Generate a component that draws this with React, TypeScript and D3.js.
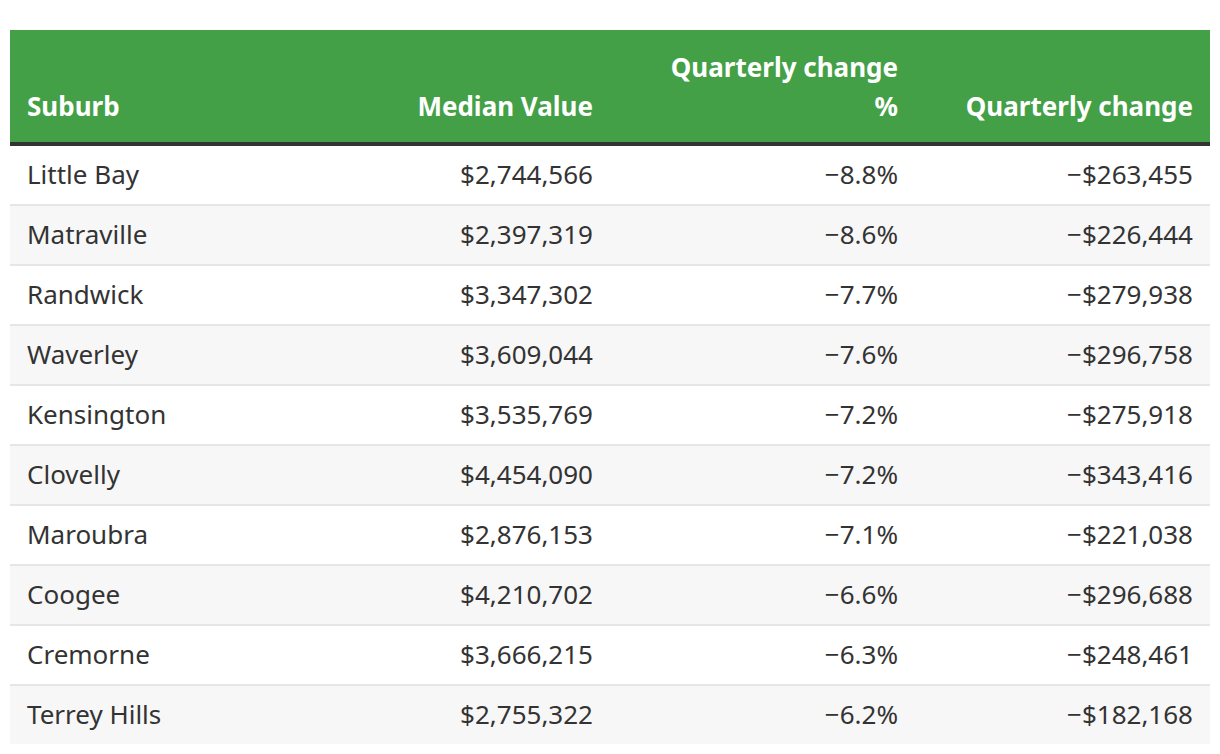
import React from "react";
import * as d3 from "d3";

const suburbs = ["Little Bay", "Matraville", "Randwick", "Waverley", "Kensington", "Clovelly", "Maroubra", "Coogee", "Cremorne", "Terrey Hills"];
const medianValues = [2744566, 2397319, 3347302, 3609044, 3535769, 4454090, 2876153, 4210702, 3666215, 2755322];
const quarterlyPct = [-8.8, -8.6, -7.7, -7.6, -7.2, -7.2, -7.1, -6.6, -6.3, -6.2];
const quarterlyChange = [-263455, -226444, -279938, -296758, -275918, -343416, -221038, -296688, -248461, -182168];
const headers = [["Suburb"], ["Median Value"], ["Quarterly change", "%"], ["Quarterly change"]];

const W = 1220;
const H = 754;
const FONT = "'Noto Sans', 'Open Sans', sans-serif";

export default function App() {
  const left = 10;
  const right = 1210;
  const headTop = 30;
  const headBottom = 142;
  const borderH = 4;
  const bodyTop = headBottom + borderH;
  const rowH = 60;
  const y = d3.scaleBand<number>().domain(d3.range(suburbs.length)).range([bodyTop, bodyTop + rowH * suburbs.length]).padding(0);
  const colEdges = [left, 610, 915, right];
  const pad = 17;
  const fmtMoney = d3.format("$,.0f");
  const fmtPct = (v: number) => d3.format(".1f")(v) + "%";
  const rows = suburbs.map((s, i) => [s, fmtMoney(medianValues[i]), fmtPct(quarterlyPct[i]), fmtMoney(quarterlyChange[i])]);
  const colX = (c: number) => (c === 0 ? left + pad : colEdges[c] - pad);
  const anchor = (c: number) => (c === 0 ? "start" : "end");

  return (
    <svg width={W} height={H} style={{ position: "absolute", left: 0, top: 0 }} fontFamily={FONT}>
      <rect x={0} y={0} width={W} height={H} fill="#fff" />
      <rect x={left} y={headTop} width={right - left} height={headBottom - headTop} fill="#43a047" />
      <rect x={left} y={headBottom} width={right - left} height={borderH} fill="#333333" />
      {headers.map((lines, c) =>
        lines.map((t, k) => (
          <text key={c + "-" + k} x={colX(c)} y={116 - (lines.length - 1 - k) * 39} textAnchor={anchor(c)} fill="#fff" fontWeight={700} fontSize={26}>
            {t}
          </text>
        ))
      )}
      {rows.map((r, i) => {
        const top = y(i)!;
        const last = i === rows.length - 1;
        return (
          <g key={i}>
            <rect x={left} y={top} width={right - left} height={last ? 58 : rowH} fill={i % 2 === 1 ? "#f7f7f7" : "#ffffff"} />
            {!last && <rect x={left} y={top + rowH - 2} width={right - left} height={2} fill="#e6e6e6" />}
            {r.map((t, c) => (
              <text key={c} x={colX(c)} y={top + 38} textAnchor={anchor(c)} fill="#333333" fontSize={26}>
                {t}
              </text>
            ))}
          </g>
        );
      })}
    </svg>
  );
}
